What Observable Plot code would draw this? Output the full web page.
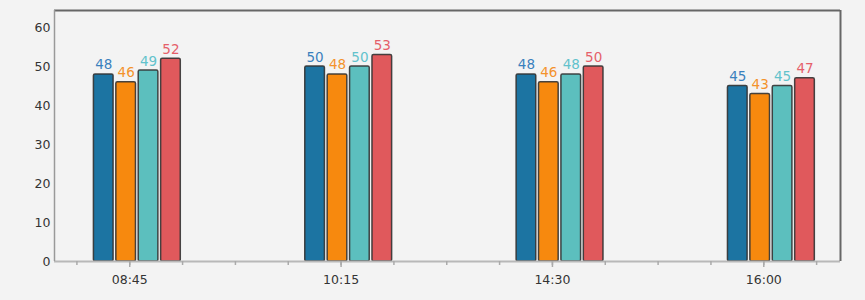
<!DOCTYPE html>
<html>
<head>
<meta charset="utf-8">
<script src="https://cdn.jsdelivr.net/npm/d3@7"></script>
<script src="https://cdn.jsdelivr.net/npm/@observablehq/plot@0.6"></script>
<style>
  html, body { margin: 0; padding: 0; background: #f2f2f2; }
  #chart svg { display: block; }
</style>
</head>
<body>
<div id="chart"></div>
<script>
// ---- data ----
const times = ["08:45", "10:15", "14:30", "16:00"];
const series1 = [48, 50, 48, 45];
const series2 = [46, 48, 46, 43];
const series3 = [49, 50, 48, 45];
const series4 = [52, 53, 50, 47];
const yTicks = [0, 10, 20, 30, 40, 50, 60];

// ---- styles ----
const barColors = ["#1c74a2", "#f7890e", "#5cbfbe", "#e0595c"];
const labelColors = ["#3a80bd", "#f3922c", "#62c2cc", "#e5606a"];

const allSeries = [series1, series2, series3, series4];
const rows = [];
times.forEach((t, i) => {
  allSeries.forEach((s, k) => rows.push({i, k, time: t, value: s[i]}));
});

// layout in x-index units
const xDomain = [-0.356, 3.363];
const yMax = 64.4;
const step = 0.106, bw = 0.093, shift = 0.036;
const cx = d => d.i + shift + (d.k - 1.5) * step;

const minorTicks = d3.range(-1, 14).map(j => j * 0.25).filter(v => v > xDomain[0] && v < xDomain[1]);
const majorTicks = times.map((t, i) => i);

const font = "DejaVu Sans, Verdana, sans-serif";

const plot = Plot.plot({
  width: 865,
  height: 300,
  marginTop: 10,
  marginLeft: 54,
  marginRight: 25,
  marginBottom: 39,
  style: {background: "#f3f3f3", fontFamily: font, fontSize: "12.5px", color: "#333"},
  x: {type: "linear", domain: xDomain},
  y: {domain: [0, yMax]},
  color: {type: "identity"},
  marks: [
    Plot.rectY(rows, {
      x1: d => cx(d) - bw / 2,
      x2: d => cx(d) + bw / 2,
      y1: 0,
      y2: "value",
      fill: d => barColors[d.k],
      stroke: "#333",
      strokeWidth: 1.5,
      strokeOpacity: 0.9,
      rx: 1.5,
      inset: 0
    }),
    Plot.text(rows, {
      x: cx,
      y: "value",
      text: d => String(d.value),
      fill: d => labelColors[d.k],
      lineAnchor: "bottom",
      dy: -5,
      fontSize: 13.5,
      fontFamily: font
    }),
    Plot.ruleY([0], {stroke: "#b8b8b8", strokeWidth: 2}),
    Plot.ruleY([yMax], {stroke: "#666", strokeWidth: 2}),
    Plot.ruleX([xDomain[1]], {stroke: "#666", strokeWidth: 2}),
    Plot.ruleX([xDomain[0]], {stroke: "#999", strokeWidth: 1.5}),
    Plot.axisY({ticks: yTicks, tickSize: 0, tickPadding: 4, label: null, fontSize: 12.5, fill: "#333"}),
    Plot.axisX({ticks: minorTicks, tickSize: 4, tickFormat: () => "", label: null, stroke: "#aaa", strokeWidth: 1.5}),
    Plot.axisX({ticks: majorTicks, tickSize: 6, tickPadding: 8, tickFormat: i => times[i], label: null, stroke: "#aaa", strokeWidth: 1.5, fontSize: 12.5, fill: "#333"})
  ]
});
document.getElementById("chart").appendChild(plot);
</script>
</body>
</html>
